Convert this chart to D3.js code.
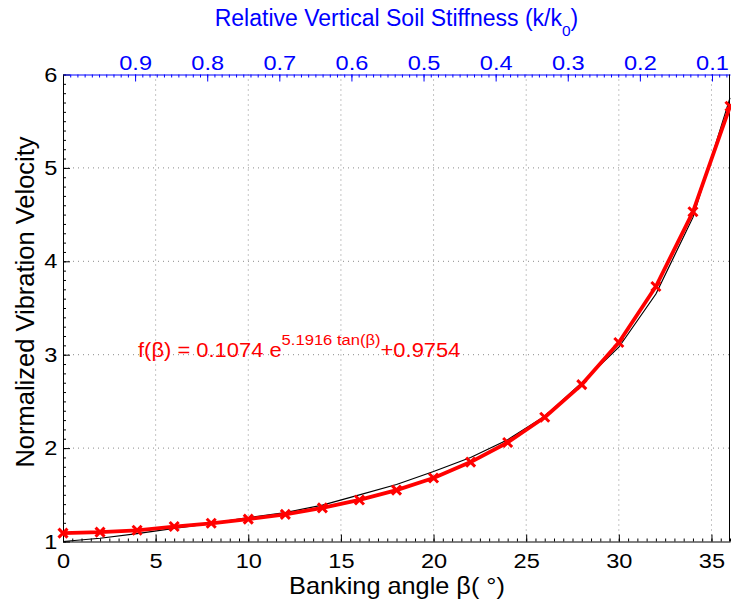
<!DOCTYPE html>
<html>
<head>
<meta charset="utf-8">
<script src="https://cdn.jsdelivr.net/npm/d3@7"></script>
<style>
  body { margin: 0; background: #fff; }
  text { font-family: "Liberation Sans", Arial, Helvetica, sans-serif; }
</style>
</head>
<body>
<div id="chart"></div>
<script>
// banking angle (deg) sampled every 2 degrees
const beta = [0, 2, 4, 6, 8, 10, 12, 14, 16, 18, 20, 22, 24, 26, 28, 30, 32, 34, 36];
// red curve with markers (fitted)
const fitVel = [1.09, 1.10, 1.12, 1.16, 1.195, 1.24, 1.29, 1.36, 1.445, 1.55, 1.68, 1.85, 2.06, 2.33, 2.68, 3.13, 3.73, 4.53, 5.66];
// thin black curve
const simVel = [1.00, 1.035, 1.085, 1.14, 1.195, 1.255, 1.31, 1.39, 1.50, 1.61, 1.75, 1.90, 2.09, 2.34, 2.70, 3.08, 3.65, 4.47, 5.75];

const xTicks = [0, 5, 10, 15, 20, 25, 30, 35];
const yTicks = [1, 2, 3, 4, 5, 6];
const topTicks = [0.9, 0.8, 0.7, 0.6, 0.5, 0.4, 0.3, 0.2, 0.1];

const W = 731, H = 606;
const margin = {top: 74.5, right: 1, bottom: 64.5, left: 63};
const width = W - margin.left - margin.right,
      height = H - margin.top - margin.bottom;

const svg = d3.select("#chart")
  .append("svg")
    .attr("width", W)
    .attr("height", H);

const g = svg.append("g")
    .attr("transform", "translate(" + margin.left + "," + margin.top + ")");

const x = d3.scaleLinear().domain([0, 36]).range([0, width]);
const y = d3.scaleLinear().domain([1, 6]).range([height, 0]);
const xTop = d3.scaleLinear().domain([1, 0.075]).range([0, width]);

const stretch = "scale(1.15,1)";

// grid
g.append("g")
  .selectAll("line")
  .data(xTicks.slice(1))
  .enter()
  .append("line")
    .attr("x1", d => x(d)).attr("x2", d => x(d))
    .attr("y1", 0).attr("y2", height)
    .attr("stroke", "#8a8a8a")
    .attr("stroke-width", 1)
    .attr("stroke-dasharray", "1,4");

g.append("g")
  .selectAll("line")
  .data(yTicks.slice(1, -1))
  .enter()
  .append("line")
    .attr("x1", 0).attr("x2", width)
    .attr("y1", d => y(d)).attr("y2", d => y(d))
    .attr("stroke", "#8a8a8a")
    .attr("stroke-width", 1)
    .attr("stroke-dasharray", "1,4");

// minor ticks
function minor(n0, n1, step) {
  const out = [];
  for (let i = n0; i <= n1 + 1e-9; i += step) out.push(+i.toFixed(3));
  return out;
}

g.append("g")
    .attr("transform", "translate(0," + height + ")")
    .call(d3.axisBottom(x).tickValues(minor(0, 36, 0.5)).tickSizeInner(-3).tickSizeOuter(0).tickFormat(""))
    .call(a => a.select(".domain").remove());

g.append("g")
    .call(d3.axisLeft(y).tickValues(minor(1, 6, 0.1)).tickSizeInner(-3).tickSizeOuter(0).tickFormat(""))
    .call(a => a.select(".domain").remove());

g.append("g")
    .call(d3.axisTop(xTop).tickValues(minor(0.08, 0.99, 0.01)).tickSizeInner(-3).tickSizeOuter(0).tickFormat(""))
    .call(a => a.select(".domain").remove())
    .selectAll("line").attr("stroke", "#0000ff");

// major axes
const xAxis = g.append("g")
    .attr("transform", "translate(0," + height + ")")
    .call(d3.axisBottom(x).tickValues(xTicks).tickSizeInner(-7).tickSizeOuter(0).tickPadding(11.5));

const yAxis = g.append("g")
    .call(d3.axisLeft(y).tickValues(yTicks).tickSizeInner(-7).tickSizeOuter(0).tickPadding(5).tickFormat(d3.format("d")));

const topAxis = g.append("g")
    .call(d3.axisTop(xTop).tickValues(topTicks).tickSizeInner(-7).tickSizeOuter(0).tickPadding(5).tickFormat(d3.format(".1f")));

[xAxis, yAxis].forEach(a => {
  a.selectAll("text").attr("font-size", 20.5).attr("fill", "#000").attr("transform", stretch);
  a.selectAll("path, line").attr("stroke", "#000");
  a.attr("font-family", null);
});
topAxis.selectAll("text").attr("font-size", 20.5).attr("fill", "#0000ff").attr("transform", stretch);
topAxis.selectAll("path, line").attr("stroke", "#0000ff");
topAxis.attr("font-family", null);

// right border
g.append("line")
    .attr("x1", width - 0.5).attr("x2", width - 0.5)
    .attr("y1", 0).attr("y2", height)
    .attr("stroke", "#000");

// curves
const line = d3.line()
    .x(d => x(d[0]))
    .y(d => y(d[1]));

g.append("path")
    .datum(beta.map((b, i) => [b, simVel[i]]))
    .attr("fill", "none")
    .attr("stroke", "#000")
    .attr("stroke-width", 1.2)
    .attr("d", line);

const fitData = beta.map((b, i) => [b, fitVel[i]]);

g.append("path")
    .datum(fitData)
    .attr("fill", "none")
    .attr("stroke", "#ff0000")
    .attr("stroke-width", 3.8)
    .attr("stroke-linejoin", "round")
    .attr("d", line);

const ms = 4.5;
g.append("g")
  .selectAll("path")
  .data(fitData)
  .enter()
  .append("path")
    .attr("transform", d => "translate(" + x(d[0]) + "," + y(d[1]) + ")")
    .attr("d", "M" + -ms + "," + -ms + "L" + ms + "," + ms + "M" + -ms + "," + ms + "L" + ms + "," + -ms)
    .attr("stroke", "#ff0000")
    .attr("stroke-width", 3)
    .attr("fill", "none");

// formula
const fs = 1.07;
const fx = svg.append("text")
    .attr("transform", "scale(" + fs + ",1)")
    .attr("x", 138 / fs)
    .attr("y", 357)
    .attr("fill", "#ff0000")
    .attr("font-size", 20.5);
fx.append("tspan").text("f(β) = 0.1074 e");
fx.append("tspan").attr("dy", -12).attr("font-size", 15.5).text("5.1916 tan(β)");
fx.append("tspan").attr("dy", 12).text("+0.9754");

// labels
const ls = 1.1;
svg.append("text")
    .attr("transform", "scale(" + ls + ",1)")
    .attr("x", 397 / ls)
    .attr("y", 594)
    .attr("text-anchor", "middle")
    .attr("font-size", 23)
    .text("Banking angle β( °)");

svg.append("text")
    .attr("transform", "translate(33.5,302) rotate(-90)")
    .attr("text-anchor", "middle")
    .attr("font-size", 25.5)
    .text("Normalized Vibration Velocity");

const title = svg.append("text")
    .attr("x", 396.5)
    .attr("y", 26)
    .attr("text-anchor", "middle")
    .attr("fill", "#0000ff")
    .attr("font-size", 23);
title.append("tspan").text("Relative Vertical Soil Stiffness (k/k");
title.append("tspan").attr("dy", 10).attr("font-size", 15.5).text("0");
title.append("tspan").attr("dy", -10).text(")");
</script>
</body>
</html>
